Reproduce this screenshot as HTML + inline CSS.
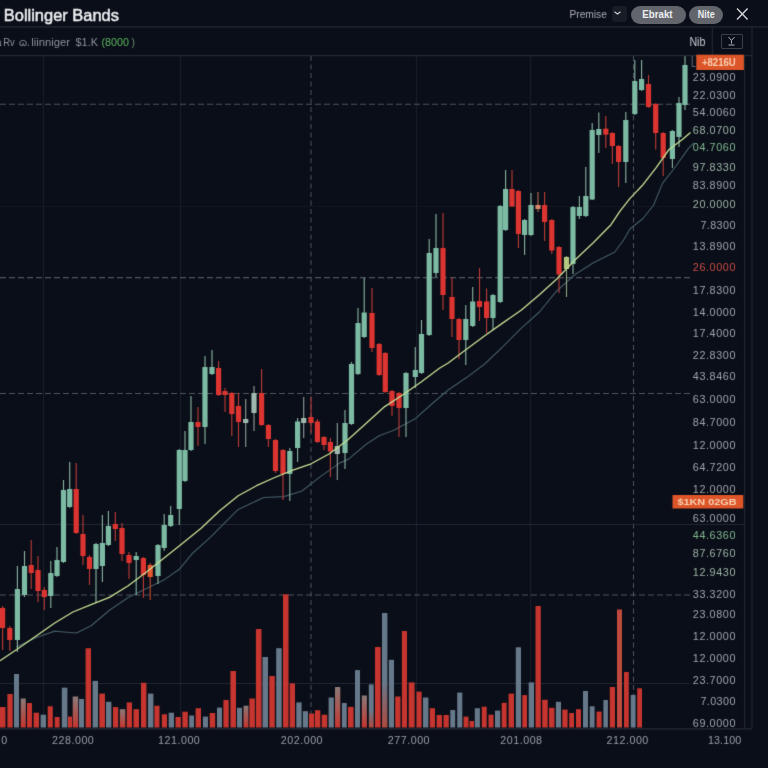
<!DOCTYPE html>
<html><head><meta charset="utf-8"><style>
html,body{margin:0;padding:0;}
body{width:768px;height:768px;overflow:hidden;background:#0a0e18;position:relative;font-family:"Liberation Sans",sans-serif;}
.t{position:absolute;white-space:nowrap;}
svg{position:absolute;left:0;top:0;}
text{font-family:"Liberation Sans",sans-serif;}
</style></head><body>
<svg width="768" height="768" viewBox="0 0 768 768"><defs>
<filter id="bl" x="0" y="0" width="768" height="768" filterUnits="userSpaceOnUse" color-interpolation-filters="sRGB"><feConvolveMatrix order="3" kernelMatrix="0.0115 0.084 0.0115 0.084 0.618 0.084 0.0115 0.084 0.0115" edgeMode="duplicate" preserveAlpha="false"/></filter>
<linearGradient id="gm" x1="0" y1="0" x2="0" y2="1"><stop offset="0" stop-color="#8a7a78"/><stop offset="1" stop-color="#c6352f"/></linearGradient>
<linearGradient id="gn" x1="0" y1="0" x2="0" y2="1"><stop offset="0" stop-color="#66798a"/><stop offset="0.6" stop-color="#66798a"/><stop offset="1" stop-color="#b04a40"/></linearGradient>
</defs><g filter="url(#bl)"><line x1="43.5" y1="56" x2="43.5" y2="728" stroke="#181e29" stroke-width="1.3"/><line x1="180.5" y1="56" x2="180.5" y2="728" stroke="#181e29" stroke-width="1.3"/><line x1="416.5" y1="56" x2="416.5" y2="728" stroke="#181e29" stroke-width="1.3"/><line x1="530.5" y1="56" x2="530.5" y2="728" stroke="#181e29" stroke-width="1.3"/><line x1="311" y1="56" x2="311" y2="728" stroke="#4f5560" stroke-width="1" stroke-dasharray="5 3.5"/><line x1="633.5" y1="56" x2="633.5" y2="728" stroke="#4f5560" stroke-width="1" stroke-dasharray="5 3.5"/><line x1="0" y1="206.5" x2="690" y2="206.5" stroke="#121722" stroke-width="1"/><line x1="0" y1="524.5" x2="744" y2="524.5" stroke="#212833" stroke-width="1"/><line x1="0" y1="683.5" x2="690" y2="683.5" stroke="#212833" stroke-width="1"/><line x1="0" y1="104.3" x2="690" y2="104.3" stroke="#4f5560" stroke-width="1.1" stroke-dasharray="6 3"/><line x1="0" y1="277.6" x2="690" y2="277.6" stroke="#4f5560" stroke-width="1.1" stroke-dasharray="6 3"/><line x1="0" y1="393.5" x2="690" y2="393.5" stroke="#4f5560" stroke-width="1.1" stroke-dasharray="6 3"/><line x1="0" y1="595" x2="690" y2="595" stroke="#4f5560" stroke-width="1.1" stroke-dasharray="6 3"/><rect x="0" y="707" width="5.5" height="20.5" fill="#c6352f"/><rect x="7.4" y="694" width="5.3" height="33.5" fill="#c6352f"/><rect x="14" y="674" width="5" height="53.5" fill="#66798a"/><rect x="20.7" y="698.5" width="5.1" height="29" fill="url(#gm)"/><rect x="27" y="703" width="5" height="24.5" fill="#c6352f"/><rect x="33.6" y="712.7" width="5.4" height="14.8" fill="#c6352f"/><rect x="40.6" y="714.7" width="5.4" height="12.8" fill="#66798a"/><rect x="47.7" y="706.3" width="5.1" height="21.2" fill="#c6352f"/><rect x="54.7" y="717" width="4.9" height="10.5" fill="#c6352f"/><rect x="61.8" y="687.7" width="5.6" height="39.8" fill="#66798a"/><rect x="68" y="716.6" width="4" height="10.9" fill="#c6352f"/><rect x="72.7" y="696.5" width="5.5" height="31" fill="url(#gm)"/><rect x="79" y="699" width="5" height="28.5" fill="#66798a"/><rect x="85.6" y="648.2" width="5.4" height="79.3" fill="#c6352f"/><rect x="92.6" y="680.9" width="5.4" height="46.6" fill="#66798a"/><rect x="99.3" y="693.6" width="5.7" height="33.9" fill="#c6352f"/><rect x="106" y="701.8" width="5.4" height="25.7" fill="#66798a"/><rect x="113" y="707" width="5.2" height="20.5" fill="#c6352f"/><rect x="119.8" y="709.2" width="5.5" height="18.3" fill="url(#gm)"/><rect x="126.7" y="702.4" width="5.3" height="25.1" fill="#c6352f"/><rect x="133.5" y="709.2" width="5.5" height="18.3" fill="#c6352f"/><rect x="141" y="682.8" width="5.4" height="44.7" fill="#c6352f"/><rect x="148" y="693.6" width="5.4" height="33.9" fill="#66798a"/><rect x="154.4" y="705.7" width="5.1" height="21.8" fill="#c6352f"/><rect x="161.8" y="714.3" width="5.2" height="13.2" fill="#c6352f"/><rect x="168.7" y="712.7" width="5.3" height="14.8" fill="#66798a"/><rect x="175.5" y="717" width="5.3" height="10.5" fill="#c6352f"/><rect x="182.4" y="711.7" width="5.4" height="15.8" fill="#c6352f"/><rect x="189.2" y="715.5" width="4.8" height="12" fill="#66798a"/><rect x="195.6" y="708.2" width="5.4" height="19.3" fill="#c6352f"/><rect x="202.9" y="716.6" width="5.1" height="10.9" fill="#66798a"/><rect x="209.7" y="713" width="5.5" height="14.5" fill="#c6352f"/><rect x="217" y="707.6" width="5" height="19.9" fill="#66798a"/><rect x="223.4" y="700" width="5.3" height="27.5" fill="#c6352f"/><rect x="230.4" y="671" width="5.6" height="56.5" fill="#c6352f"/><rect x="237" y="707.8" width="5" height="19.7" fill="#66798a"/><rect x="243.5" y="705.7" width="4.9" height="21.8" fill="url(#gm)"/><rect x="249.4" y="698.5" width="5.5" height="29" fill="#c6352f"/><rect x="255.9" y="629" width="5.6" height="98.5" fill="#c6352f"/><rect x="262.5" y="657" width="5.5" height="70.5" fill="#66798a"/><rect x="269.3" y="676" width="5.5" height="51.5" fill="#c6352f"/><rect x="276.2" y="648.2" width="5.5" height="79.3" fill="#66798a"/><rect x="283" y="594.3" width="5.5" height="133.2" fill="#c6352f"/><rect x="289.7" y="683.4" width="5.3" height="44.1" fill="#c6352f"/><rect x="296.3" y="702.4" width="5.3" height="25.1" fill="#66798a"/><rect x="302.8" y="711.2" width="5.2" height="16.3" fill="#66798a"/><rect x="309" y="713.5" width="5.3" height="14" fill="#c6352f"/><rect x="315" y="710.2" width="5.3" height="17.3" fill="#c6352f"/><rect x="321.7" y="714.7" width="5.5" height="12.8" fill="#c6352f"/><rect x="328.6" y="697.5" width="5.2" height="30" fill="#66798a"/><rect x="335" y="687" width="5.3" height="40.5" fill="url(#gm)"/><rect x="341.9" y="703" width="4.8" height="24.5" fill="#66798a"/><rect x="348" y="706.9" width="5.6" height="20.6" fill="#c6352f"/><rect x="355" y="670.1" width="5" height="57.4" fill="#66798a"/><rect x="361.8" y="695.5" width="5.1" height="32" fill="url(#gm)"/><rect x="368.8" y="684.4" width="4.9" height="43.1" fill="url(#gn)"/><rect x="375" y="647" width="5.6" height="80.5" fill="#c6352f"/><rect x="382" y="613" width="5.4" height="114.5" fill="url(#gn)"/><rect x="388.8" y="659.8" width="5.2" height="67.7" fill="#66798a"/><rect x="395.2" y="696.5" width="5.3" height="31" fill="#c6352f"/><rect x="401.9" y="631" width="5.1" height="96.5" fill="#c6352f"/><rect x="408.7" y="682.4" width="5.9" height="45.1" fill="#c6352f"/><rect x="416.5" y="691.6" width="5.1" height="35.9" fill="#c6352f"/><rect x="423" y="697.5" width="5.4" height="30" fill="#66798a"/><rect x="429.8" y="708.2" width="5.2" height="19.3" fill="#c6352f"/><rect x="436.6" y="715" width="5.4" height="12.5" fill="#c6352f"/><rect x="443.5" y="715" width="5.3" height="12.5" fill="#c6352f"/><rect x="450.3" y="710" width="4.9" height="17.5" fill="#66798a"/><rect x="457.2" y="692.6" width="5.1" height="34.9" fill="#66798a"/><rect x="463.6" y="716.6" width="4.9" height="10.9" fill="#c6352f"/><rect x="469.5" y="721" width="4.5" height="6.5" fill="#c6352f"/><rect x="474.8" y="708.2" width="5.1" height="19.3" fill="#66798a"/><rect x="481.8" y="706.7" width="4.9" height="20.8" fill="#c6352f"/><rect x="488.5" y="714.7" width="5" height="12.8" fill="#c6352f"/><rect x="495" y="710.6" width="5.2" height="16.9" fill="#66798a"/><rect x="501.7" y="702.8" width="4.9" height="24.7" fill="#c6352f"/><rect x="508.6" y="693.6" width="5.4" height="33.9" fill="#c6352f"/><rect x="515.8" y="647.3" width="5.2" height="80.2" fill="#66798a"/><rect x="522.3" y="695.1" width="4.7" height="32.4" fill="#c6352f"/><rect x="528.7" y="682.4" width="5.3" height="45.1" fill="#66798a"/><rect x="535.5" y="606" width="5.3" height="121.5" fill="#c6352f"/><rect x="542.2" y="699.8" width="5.5" height="27.7" fill="#c6352f"/><rect x="549" y="707.8" width="5.5" height="19.7" fill="#c6352f"/><rect x="555.9" y="701.8" width="5.1" height="25.7" fill="#66798a"/><rect x="562.3" y="709.6" width="5.3" height="17.9" fill="#c6352f"/><rect x="569.2" y="713" width="4.8" height="14.5" fill="#c6352f"/><rect x="576" y="709.2" width="5" height="18.3" fill="#c6352f"/><rect x="583" y="691" width="5" height="36.5" fill="#66798a"/><rect x="589.7" y="706.3" width="4.9" height="21.2" fill="#66798a"/><rect x="596.5" y="711.6" width="5.1" height="15.9" fill="#c6352f"/><rect x="603.4" y="700" width="4.5" height="27.5" fill="#66798a"/><rect x="609.8" y="687" width="5.2" height="40.5" fill="#c6352f"/><rect x="617" y="609.5" width="5" height="118" fill="#c04a3e"/><rect x="624" y="672" width="4.8" height="55.5" fill="#c6352f"/><rect x="630.7" y="695" width="4.9" height="32.5" fill="#66798a"/><rect x="637.2" y="688.3" width="4.8" height="39.2" fill="#c6352f"/><polyline points="16,647 36.5,637.5 54.7,631.1 63.8,632 76.6,633 91.1,625.7 109.4,610.2 128.2,597.6 146.5,588.5 164.7,579.4 179.3,569.3 192,553.8 210.3,537.4 220,527.6 238.2,509.4 263.7,497.5 283.8,496.6 302,491 320.3,476.6 340,462.9 348.2,459.4 366.5,444 379.2,435.7 393.8,430.3 415.7,418.4 432,403.8 448.2,390 466.5,377.6 484.7,364 502.9,346.6 521.1,328.4 539.4,312 556.5,291.2 574.7,274.8 593,263 614.8,252 623.6,240 630,229 643,218.5 653.4,205.5 662.5,183.4 675.6,166.5 688.6,148.2 694,142.8" fill="none" stroke="#435a66" stroke-width="1.15" stroke-linejoin="round"/><line x1="2.6" y1="606" x2="2.6" y2="650" stroke="#b63a36" stroke-width="1.15"/><rect x="0" y="608" width="5.2" height="20" fill="#dc3430"/><line x1="9.8" y1="626" x2="9.8" y2="651" stroke="#b63a36" stroke-width="1.15"/><rect x="7.2" y="628" width="5.2" height="12" fill="#dc3430"/><line x1="17.4" y1="566" x2="17.4" y2="652" stroke="#86ad9c" stroke-width="1.15"/><rect x="14.8" y="589" width="5.2" height="51" fill="#7cbaa3"/><line x1="24.5" y1="551" x2="24.5" y2="597" stroke="#86ad9c" stroke-width="1.15"/><rect x="21.9" y="566" width="5.2" height="29" fill="#7cbaa3"/><line x1="31.2" y1="540" x2="31.2" y2="589" stroke="#b63a36" stroke-width="1.15"/><rect x="28.6" y="565" width="5.2" height="8" fill="#dc3430"/><line x1="38" y1="556" x2="38" y2="602" stroke="#b63a36" stroke-width="1.15"/><rect x="35.4" y="570" width="5.2" height="21" fill="#dc3430"/><line x1="44.3" y1="587" x2="44.3" y2="610" stroke="#b63a36" stroke-width="1.15"/><rect x="41.7" y="590" width="5.2" height="7" fill="#dc3430"/><line x1="50.8" y1="561" x2="50.8" y2="608" stroke="#86ad9c" stroke-width="1.15"/><rect x="48.2" y="573" width="5.2" height="23" fill="#7cbaa3"/><line x1="57" y1="547" x2="57" y2="577" stroke="#86ad9c" stroke-width="1.15"/><rect x="54.4" y="560" width="5.2" height="16" fill="#7cbaa3"/><line x1="63.5" y1="480" x2="63.5" y2="563" stroke="#86ad9c" stroke-width="1.15"/><rect x="60.9" y="490" width="5.2" height="72" fill="#7cbaa3"/><line x1="69.7" y1="462" x2="69.7" y2="508" stroke="#86ad9c" stroke-width="1.15"/><rect x="67.1" y="489" width="5.2" height="18" fill="#7cbaa3"/><line x1="76.2" y1="463" x2="76.2" y2="534" stroke="#b63a36" stroke-width="1.15"/><rect x="73.6" y="489" width="5.2" height="44" fill="#dc3430"/><line x1="83" y1="515" x2="83" y2="565" stroke="#b63a36" stroke-width="1.15"/><rect x="80.4" y="534" width="5.2" height="22" fill="#dc3430"/><line x1="89.5" y1="555" x2="89.5" y2="585" stroke="#b63a36" stroke-width="1.15"/><rect x="86.9" y="557" width="5.2" height="12" fill="#dc3430"/><line x1="96" y1="543" x2="96" y2="603" stroke="#86ad9c" stroke-width="1.15"/><rect x="93.4" y="544" width="5.2" height="25" fill="#7cbaa3"/><line x1="102.4" y1="515" x2="102.4" y2="582" stroke="#86ad9c" stroke-width="1.15"/><rect x="99.8" y="543" width="5.2" height="23" fill="#7cbaa3"/><line x1="108.4" y1="511" x2="108.4" y2="546" stroke="#86ad9c" stroke-width="1.15"/><rect x="105.8" y="526" width="5.2" height="19" fill="#7cbaa3"/><line x1="115.3" y1="512" x2="115.3" y2="541" stroke="#b63a36" stroke-width="1.15"/><rect x="112.7" y="524" width="5.2" height="5" fill="#dc3430"/><line x1="122" y1="523" x2="122" y2="561" stroke="#b63a36" stroke-width="1.15"/><rect x="119.4" y="528" width="5.2" height="26" fill="#dc3430"/><line x1="129" y1="552" x2="129" y2="579" stroke="#b63a36" stroke-width="1.15"/><rect x="126.4" y="555" width="5.2" height="8" fill="#dc3430"/><line x1="136.2" y1="552" x2="136.2" y2="595" stroke="#86ad9c" stroke-width="1.15"/><rect x="133.6" y="556" width="5.2" height="4" fill="#7cbaa3"/><line x1="143.4" y1="557" x2="143.4" y2="598" stroke="#b63a36" stroke-width="1.15"/><rect x="140.8" y="558" width="5.2" height="17" fill="#dc3430"/><line x1="150.2" y1="563" x2="150.2" y2="600" stroke="#c04a30" stroke-width="1.15"/><rect x="147.6" y="565" width="5.2" height="12" fill="#e4582f"/><line x1="158" y1="544" x2="158" y2="584" stroke="#86ad9c" stroke-width="1.15"/><rect x="155.4" y="545" width="5.2" height="31" fill="#7cbaa3"/><line x1="164.2" y1="514" x2="164.2" y2="551" stroke="#86ad9c" stroke-width="1.15"/><rect x="161.6" y="525" width="5.2" height="23" fill="#7cbaa3"/><line x1="170.7" y1="506" x2="170.7" y2="527" stroke="#86ad9c" stroke-width="1.15"/><rect x="168.1" y="515" width="5.2" height="11" fill="#7cbaa3"/><line x1="179.3" y1="449" x2="179.3" y2="525" stroke="#86ad9c" stroke-width="1.15"/><rect x="176.7" y="450" width="5.2" height="59" fill="#7cbaa3"/><line x1="185" y1="431" x2="185" y2="482" stroke="#86ad9c" stroke-width="1.15"/><rect x="182.4" y="450" width="5.2" height="31" fill="#7cbaa3"/><line x1="191" y1="396" x2="191" y2="451" stroke="#86ad9c" stroke-width="1.15"/><rect x="188.4" y="422" width="5.2" height="28" fill="#7cbaa3"/><line x1="198" y1="407" x2="198" y2="446" stroke="#b63a36" stroke-width="1.15"/><rect x="195.4" y="422" width="5.2" height="5" fill="#dc3430"/><line x1="205" y1="356" x2="205" y2="444" stroke="#86ad9c" stroke-width="1.15"/><rect x="202.4" y="367" width="5.2" height="60" fill="#7cbaa3"/><line x1="212" y1="350" x2="212" y2="375" stroke="#86ad9c" stroke-width="1.15"/><rect x="209.4" y="367" width="5.2" height="7" fill="#7cbaa3"/><line x1="218.6" y1="361" x2="218.6" y2="396" stroke="#b63a36" stroke-width="1.15"/><rect x="216" y="368" width="5.2" height="27" fill="#dc3430"/><line x1="225" y1="388" x2="225" y2="412" stroke="#b63a36" stroke-width="1.15"/><rect x="222.4" y="391" width="5.2" height="4" fill="#dc3430"/><line x1="231.8" y1="392" x2="231.8" y2="436" stroke="#b63a36" stroke-width="1.15"/><rect x="229.2" y="393" width="5.2" height="21" fill="#dc3430"/><line x1="238.5" y1="393" x2="238.5" y2="447" stroke="#b63a36" stroke-width="1.15"/><rect x="235.9" y="406" width="5.2" height="16" fill="#dc3430"/><line x1="245.7" y1="399" x2="245.7" y2="447" stroke="#8a9a95" stroke-width="1.15"/><rect x="243.1" y="419" width="5.2" height="4" fill="#9fb8ad"/><line x1="254" y1="386" x2="254" y2="431" stroke="#8a9a95" stroke-width="1.15"/><rect x="251.4" y="393" width="5.2" height="20" fill="#9fb8ad"/><line x1="261.6" y1="369" x2="261.6" y2="426" stroke="#b63a36" stroke-width="1.15"/><rect x="259" y="393" width="5.2" height="32" fill="#dc3430"/><line x1="268.4" y1="424" x2="268.4" y2="447" stroke="#b63a36" stroke-width="1.15"/><rect x="265.8" y="425" width="5.2" height="14" fill="#dc3430"/><line x1="275.5" y1="439" x2="275.5" y2="473" stroke="#b63a36" stroke-width="1.15"/><rect x="272.9" y="440" width="5.2" height="31" fill="#dc3430"/><line x1="283" y1="449" x2="283" y2="500" stroke="#b63a36" stroke-width="1.15"/><rect x="280.4" y="450" width="5.2" height="24" fill="#dc3430"/><line x1="289.8" y1="448" x2="289.8" y2="501" stroke="#86ad9c" stroke-width="1.15"/><rect x="287.2" y="451" width="5.2" height="23" fill="#7cbaa3"/><line x1="297.6" y1="418" x2="297.6" y2="462" stroke="#86ad9c" stroke-width="1.15"/><rect x="295" y="421.5" width="5.2" height="26.5" fill="#7cbaa3"/><line x1="303.7" y1="397" x2="303.7" y2="438" stroke="#8a9a95" stroke-width="1.15"/><rect x="301.1" y="418" width="5.2" height="5" fill="#9fb8ad"/><line x1="311" y1="397" x2="311" y2="433" stroke="#b63a36" stroke-width="1.15"/><rect x="308.4" y="417" width="5.2" height="6" fill="#dc3430"/><line x1="317.4" y1="419" x2="317.4" y2="443" stroke="#b63a36" stroke-width="1.15"/><rect x="314.8" y="421.5" width="5.2" height="20.5" fill="#dc3430"/><line x1="324" y1="436" x2="324" y2="450" stroke="#b63a36" stroke-width="1.15"/><rect x="321.4" y="437" width="5.2" height="8" fill="#dc3430"/><line x1="330.4" y1="438" x2="330.4" y2="477" stroke="#b63a36" stroke-width="1.15"/><rect x="327.8" y="442" width="5.2" height="9.5" fill="#dc3430"/><line x1="337.3" y1="423" x2="337.3" y2="480" stroke="#8a9a95" stroke-width="1.15"/><rect x="334.7" y="446" width="5.2" height="8" fill="#9fb8ad"/><line x1="345" y1="410" x2="345" y2="469" stroke="#86ad9c" stroke-width="1.15"/><rect x="342.4" y="423" width="5.2" height="30" fill="#7cbaa3"/><line x1="351.5" y1="362" x2="351.5" y2="425" stroke="#86ad9c" stroke-width="1.15"/><rect x="348.9" y="364" width="5.2" height="60" fill="#7cbaa3"/><line x1="358" y1="308" x2="358" y2="375" stroke="#86ad9c" stroke-width="1.15"/><rect x="355.4" y="323" width="5.2" height="51" fill="#7cbaa3"/><line x1="364.2" y1="278" x2="364.2" y2="338" stroke="#86ad9c" stroke-width="1.15"/><rect x="361.6" y="312.5" width="5.2" height="24.5" fill="#7cbaa3"/><line x1="372" y1="288" x2="372" y2="352" stroke="#b63a36" stroke-width="1.15"/><rect x="369.4" y="313" width="5.2" height="35" fill="#dc3430"/><line x1="379.2" y1="343" x2="379.2" y2="376" stroke="#b63a36" stroke-width="1.15"/><rect x="376.6" y="344" width="5.2" height="31" fill="#dc3430"/><line x1="385.3" y1="352" x2="385.3" y2="393" stroke="#b63a36" stroke-width="1.15"/><rect x="382.7" y="353" width="5.2" height="39" fill="#dc3430"/><line x1="392" y1="390" x2="392" y2="416" stroke="#b63a36" stroke-width="1.15"/><rect x="389.4" y="391" width="5.2" height="15" fill="#dc3430"/><line x1="399" y1="392" x2="399" y2="437" stroke="#b63a36" stroke-width="1.15"/><rect x="396.4" y="393" width="5.2" height="15" fill="#dc3430"/><line x1="406" y1="372" x2="406" y2="437" stroke="#86ad9c" stroke-width="1.15"/><rect x="403.4" y="373" width="5.2" height="35" fill="#7cbaa3"/><line x1="415.3" y1="347" x2="415.3" y2="388" stroke="#86ad9c" stroke-width="1.15"/><rect x="412.7" y="370" width="5.2" height="7" fill="#7cbaa3"/><line x1="421.5" y1="320" x2="421.5" y2="374" stroke="#86ad9c" stroke-width="1.15"/><rect x="418.9" y="334" width="5.2" height="39" fill="#7cbaa3"/><line x1="429.2" y1="239" x2="429.2" y2="336" stroke="#86ad9c" stroke-width="1.15"/><rect x="426.6" y="253" width="5.2" height="82" fill="#7cbaa3"/><line x1="436" y1="214" x2="436" y2="277" stroke="#86ad9c" stroke-width="1.15"/><rect x="433.4" y="248" width="5.2" height="25" fill="#7cbaa3"/><line x1="443" y1="213" x2="443" y2="310" stroke="#b63a36" stroke-width="1.15"/><rect x="440.4" y="248" width="5.2" height="47" fill="#dc3430"/><line x1="452" y1="277" x2="452" y2="337" stroke="#b63a36" stroke-width="1.15"/><rect x="449.4" y="297" width="5.2" height="22" fill="#dc3430"/><line x1="459" y1="318" x2="459" y2="359" stroke="#b63a36" stroke-width="1.15"/><rect x="456.4" y="319" width="5.2" height="21" fill="#dc3430"/><line x1="465.8" y1="305" x2="465.8" y2="365" stroke="#86ad9c" stroke-width="1.15"/><rect x="463.2" y="319" width="5.2" height="21" fill="#7cbaa3"/><line x1="472.7" y1="287" x2="472.7" y2="327" stroke="#86ad9c" stroke-width="1.15"/><rect x="470.1" y="301.5" width="5.2" height="24.5" fill="#7cbaa3"/><line x1="479.5" y1="268" x2="479.5" y2="321" stroke="#b63a36" stroke-width="1.15"/><rect x="476.9" y="301" width="5.2" height="6" fill="#dc3430"/><line x1="486.6" y1="288.5" x2="486.6" y2="333" stroke="#b63a36" stroke-width="1.15"/><rect x="484" y="301.5" width="5.2" height="16.5" fill="#dc3430"/><line x1="493" y1="294" x2="493" y2="330" stroke="#86ad9c" stroke-width="1.15"/><rect x="490.4" y="295" width="5.2" height="23" fill="#7cbaa3"/><line x1="500.2" y1="205" x2="500.2" y2="303" stroke="#86ad9c" stroke-width="1.15"/><rect x="497.6" y="206" width="5.2" height="96" fill="#7cbaa3"/><line x1="505.6" y1="170" x2="505.6" y2="231" stroke="#86ad9c" stroke-width="1.15"/><rect x="503" y="189" width="5.2" height="41" fill="#7cbaa3"/><line x1="512" y1="170" x2="512" y2="207" stroke="#b63a36" stroke-width="1.15"/><rect x="509.4" y="189" width="5.2" height="17.5" fill="#dc3430"/><line x1="518.4" y1="190" x2="518.4" y2="248" stroke="#b63a36" stroke-width="1.15"/><rect x="515.8" y="191" width="5.2" height="43" fill="#dc3430"/><line x1="524.6" y1="219" x2="524.6" y2="255" stroke="#86ad9c" stroke-width="1.15"/><rect x="522" y="220" width="5.2" height="15" fill="#7cbaa3"/><line x1="531" y1="193" x2="531" y2="236" stroke="#86ad9c" stroke-width="1.15"/><rect x="528.4" y="205" width="5.2" height="30" fill="#7cbaa3"/><line x1="538" y1="192" x2="538" y2="212" stroke="#b06a50" stroke-width="1.15"/><rect x="535.4" y="205" width="5.2" height="4" fill="#d98a6a"/><line x1="544.6" y1="192" x2="544.6" y2="241" stroke="#b63a36" stroke-width="1.15"/><rect x="542" y="205" width="5.2" height="17" fill="#dc3430"/><line x1="551.8" y1="219" x2="551.8" y2="254" stroke="#b63a36" stroke-width="1.15"/><rect x="549.2" y="220" width="5.2" height="30.5" fill="#dc3430"/><line x1="559" y1="246" x2="559" y2="293" stroke="#b63a36" stroke-width="1.15"/><rect x="556.4" y="247" width="5.2" height="27.5" fill="#dc3430"/><line x1="566.5" y1="256" x2="566.5" y2="297" stroke="#8aa07a" stroke-width="1.15"/><rect x="563.9" y="257" width="5.2" height="12" fill="#b4c77e"/><line x1="573" y1="206" x2="573" y2="274" stroke="#86ad9c" stroke-width="1.15"/><rect x="570.4" y="207" width="5.2" height="57" fill="#7cbaa3"/><line x1="579.4" y1="196" x2="579.4" y2="219" stroke="#86ad9c" stroke-width="1.15"/><rect x="576.8" y="207" width="5.2" height="9" fill="#7cbaa3"/><line x1="585.8" y1="167" x2="585.8" y2="217" stroke="#86ad9c" stroke-width="1.15"/><rect x="583.2" y="196" width="5.2" height="20" fill="#7cbaa3"/><line x1="592.2" y1="123" x2="592.2" y2="200" stroke="#86ad9c" stroke-width="1.15"/><rect x="589.6" y="130" width="5.2" height="69.5" fill="#7cbaa3"/><line x1="598.8" y1="112.5" x2="598.8" y2="153" stroke="#86ad9c" stroke-width="1.15"/><rect x="596.2" y="129" width="5.2" height="6" fill="#7cbaa3"/><line x1="605.8" y1="116" x2="605.8" y2="148" stroke="#b63a36" stroke-width="1.15"/><rect x="603.2" y="128.6" width="5.2" height="6" fill="#dc3430"/><line x1="612.4" y1="132" x2="612.4" y2="164" stroke="#b63a36" stroke-width="1.15"/><rect x="609.8" y="133" width="5.2" height="13" fill="#dc3430"/><line x1="618.6" y1="145" x2="618.6" y2="187" stroke="#b63a36" stroke-width="1.15"/><rect x="616" y="146" width="5.2" height="16" fill="#dc3430"/><line x1="625.8" y1="112" x2="625.8" y2="183" stroke="#86ad9c" stroke-width="1.15"/><rect x="623.2" y="120" width="5.2" height="42" fill="#7cbaa3"/><line x1="634.8" y1="60" x2="634.8" y2="115" stroke="#86ad9c" stroke-width="1.15"/><rect x="632.2" y="81" width="5.2" height="33" fill="#7cbaa3"/><line x1="641.6" y1="60" x2="641.6" y2="91" stroke="#86ad9c" stroke-width="1.15"/><rect x="639" y="79" width="5.2" height="11" fill="#7cbaa3"/><line x1="648.5" y1="75" x2="648.5" y2="108" stroke="#b63a36" stroke-width="1.15"/><rect x="645.9" y="84" width="5.2" height="23" fill="#dc3430"/><line x1="655.7" y1="103" x2="655.7" y2="149.5" stroke="#b63a36" stroke-width="1.15"/><rect x="653.1" y="104" width="5.2" height="29" fill="#dc3430"/><line x1="663.2" y1="132" x2="663.2" y2="176" stroke="#b63a36" stroke-width="1.15"/><rect x="660.6" y="133" width="5.2" height="25" fill="#dc3430"/><line x1="672.4" y1="130" x2="672.4" y2="168" stroke="#86ad9c" stroke-width="1.15"/><rect x="669.8" y="131" width="5.2" height="28" fill="#7cbaa3"/><line x1="679" y1="97" x2="679" y2="147" stroke="#86ad9c" stroke-width="1.15"/><rect x="676.4" y="103" width="5.2" height="34" fill="#7cbaa3"/><line x1="685" y1="56" x2="685" y2="110" stroke="#86ad9c" stroke-width="1.15"/><rect x="682.4" y="65" width="5.2" height="40" fill="#7cbaa3"/><polyline points="0,660.7 18.2,648.5 36.5,635.7 54.7,623 72.9,612 91.1,604.7 109.4,597.4 128.2,585.7 146.5,572 164.7,557.5 182.9,543 201.1,528.3 219.4,511 238.2,495.7 256.5,485.7 274.7,477.5 292.9,470.2 311.1,463.8 329.4,453.8 348.2,439.4 366.5,423 384.7,406.6 402.9,394.7 421.1,382 439.4,368.3 448.2,363 466.5,349.3 484.7,335.7 502.9,322.9 521.1,310.2 539.4,294.7 556.5,279.3 574.7,260.2 593,243 611,224.7 620,211.2 630,198.4 643,184.7 656,167.8 669,149.5 682,139.8 690.5,132.4" fill="none" stroke="#c4de94" stroke-width="1.3" stroke-linejoin="round"/><line x1="0" y1="26.8" x2="768" y2="26.8" stroke="#252b36" stroke-width="1.2"/><line x1="0" y1="55.6" x2="752" y2="55.6" stroke="#252b36" stroke-width="1.2"/><line x1="712.3" y1="27" x2="712.3" y2="55" stroke="#252b36" stroke-width="1"/><line x1="744.6" y1="55" x2="744.6" y2="729" stroke="#252b36" stroke-width="1"/><line x1="752" y1="27" x2="752" y2="729" stroke="#252b36" stroke-width="1"/><line x1="0" y1="728.8" x2="752" y2="728.8" stroke="#252b36" stroke-width="1.2"/><text x="735.4" y="80.9" font-size="10.8" fill="#9ea4aa" text-anchor="end" textLength="42.6" lengthAdjust="spacing">23.0900</text><text x="735.4" y="99.1" font-size="10.8" fill="#9ea4aa" text-anchor="end" textLength="42.6" lengthAdjust="spacing">22.0300</text><text x="735.4" y="116" font-size="10.8" fill="#9ea4aa" text-anchor="end" textLength="42.6" lengthAdjust="spacing">54.0060</text><text x="735.4" y="134.2" font-size="10.8" fill="#9cb3a6" text-anchor="end" textLength="42.6" lengthAdjust="spacing">68.0700</text><text x="735.4" y="151.2" font-size="10.8" fill="#80b690" text-anchor="end" textLength="42.6" lengthAdjust="spacing">04.7060</text><text x="735.4" y="170.7" font-size="10.8" fill="#9cb3a6" text-anchor="end" textLength="42.6" lengthAdjust="spacing">97.8330</text><text x="735.4" y="188.9" font-size="10.8" fill="#9ea4aa" text-anchor="end" textLength="42.6" lengthAdjust="spacing">83.8900</text><text x="735.4" y="207.9" font-size="10.8" fill="#9cb3a6" text-anchor="end" textLength="42.6" lengthAdjust="spacing">20.0000</text><text x="735.4" y="228.8" font-size="10.8" fill="#9ea4aa" text-anchor="end" textLength="35" lengthAdjust="spacing">7.8300</text><text x="735.4" y="250.4" font-size="10.8" fill="#9ea4aa" text-anchor="end" textLength="42.6" lengthAdjust="spacing">13.8900</text><text x="735.4" y="270.9" font-size="10.8" fill="#c84c44" text-anchor="end" textLength="42.6" lengthAdjust="spacing">26.0000</text><text x="735.4" y="293.8" font-size="10.8" fill="#9ea4aa" text-anchor="end" textLength="42.6" lengthAdjust="spacing">17.8300</text><text x="735.4" y="315.65" font-size="10.8" fill="#9ea4aa" text-anchor="end" textLength="42.6" lengthAdjust="spacing">14.0000</text><text x="735.4" y="337.3" font-size="10.8" fill="#9ea4aa" text-anchor="end" textLength="42.6" lengthAdjust="spacing">17.4000</text><text x="735.4" y="358.9" font-size="10.8" fill="#9ea4aa" text-anchor="end" textLength="42.6" lengthAdjust="spacing">22.8300</text><text x="735.4" y="380.2" font-size="10.8" fill="#9ea4aa" text-anchor="end" textLength="42.6" lengthAdjust="spacing">43.8460</text><text x="735.4" y="403.15" font-size="10.8" fill="#9ea4aa" text-anchor="end" textLength="42.6" lengthAdjust="spacing">63.0000</text><text x="735.4" y="426.4" font-size="10.8" fill="#9ea4aa" text-anchor="end" textLength="42.6" lengthAdjust="spacing">84.7000</text><text x="735.4" y="449.1" font-size="10.8" fill="#9ea4aa" text-anchor="end" textLength="42.6" lengthAdjust="spacing">12.0000</text><text x="735.4" y="471.3" font-size="10.8" fill="#9ea4aa" text-anchor="end" textLength="42.6" lengthAdjust="spacing">64.7200</text><text x="735.4" y="492.6" font-size="10.8" fill="#9ea4aa" text-anchor="end" textLength="42.6" lengthAdjust="spacing">12.0000</text><text x="735.4" y="522.1" font-size="10.8" fill="#9ea4aa" text-anchor="end" textLength="42.6" lengthAdjust="spacing">63.0000</text><text x="735.4" y="539" font-size="10.8" fill="#80b690" text-anchor="end" textLength="42.6" lengthAdjust="spacing">44.6360</text><text x="735.4" y="557.2" font-size="10.8" fill="#9cb3a6" text-anchor="end" textLength="42.6" lengthAdjust="spacing">87.6760</text><text x="735.4" y="576" font-size="10.8" fill="#9cb3a6" text-anchor="end" textLength="42.6" lengthAdjust="spacing">12.9430</text><text x="735.4" y="598.4" font-size="10.8" fill="#9ea4aa" text-anchor="end" textLength="42.6" lengthAdjust="spacing">33.3200</text><text x="735.4" y="618.4" font-size="10.8" fill="#9ea4aa" text-anchor="end" textLength="42.6" lengthAdjust="spacing">23.0800</text><text x="735.4" y="639.8" font-size="10.8" fill="#9ea4aa" text-anchor="end" textLength="42.6" lengthAdjust="spacing">12.0000</text><text x="735.4" y="661.7" font-size="10.8" fill="#9ea4aa" text-anchor="end" textLength="42.6" lengthAdjust="spacing">12.0000</text><text x="735.4" y="683.6" font-size="10.8" fill="#9ea4aa" text-anchor="end" textLength="42.6" lengthAdjust="spacing">23.7000</text><text x="735.4" y="705.4" font-size="10.8" fill="#9ea4aa" text-anchor="end" textLength="35" lengthAdjust="spacing">7.0300</text><text x="735.4" y="727.4" font-size="10.8" fill="#9ea4aa" text-anchor="end" textLength="42.6" lengthAdjust="spacing">69.0000</text><rect x="696.3" y="54.7" width="47.6" height="15.3" fill="#dd5528"/><text x="701.9" y="65.8" font-size="10" fill="#f6cfb2" textLength="33.8" lengthAdjust="spacingAndGlyphs" font-weight="bold">+8216U</text><polyline points="692.2,56 692.2,66.5 695.5,66.5" fill="none" stroke="#6a7480" stroke-width="0.9"/><rect x="672.5" y="495" width="70.8" height="13.5" fill="#dd5528"/><text x="677.4" y="504.9" font-size="9.2" fill="#f6cfb2" textLength="59.3" lengthAdjust="spacingAndGlyphs" font-weight="bold">$1KN 02GB</text><text x="1.25" y="744" font-size="10.7" fill="#989ea5" textLength="5.8" lengthAdjust="spacing">0</text><text x="52" y="744" font-size="10.7" fill="#989ea5" textLength="41.8" lengthAdjust="spacing">228.000</text><text x="158" y="744" font-size="10.7" fill="#989ea5" textLength="41.8" lengthAdjust="spacing">121.000</text><text x="280.75" y="744" font-size="10.7" fill="#989ea5" textLength="41.8" lengthAdjust="spacing">202.000</text><text x="387.75" y="744" font-size="10.7" fill="#989ea5" textLength="41.8" lengthAdjust="spacing">277.000</text><text x="500.25" y="744" font-size="10.7" fill="#989ea5" textLength="41.8" lengthAdjust="spacing">201.008</text><text x="606.5" y="744" font-size="10.7" fill="#989ea5" textLength="41.8" lengthAdjust="spacing">212.000</text><text x="708" y="744" font-size="10.7" fill="#989ea5" textLength="33.2" lengthAdjust="spacing">13.100</text><text x="3.8" y="20.75" font-size="17" fill="#eceef0" textLength="115.2" lengthAdjust="spacingAndGlyphs" stroke="#eceef0" stroke-width="0.5">Bollinger Bands</text><text x="-4.6" y="45.6" font-size="10.9" fill="#8a9098">a</text><text x="3.3" y="45.6" font-size="10.9" fill="#8a9098" textLength="11.5" lengthAdjust="spacingAndGlyphs">Rv</text><text x="19" y="45.6" font-size="10.9" fill="#8a9098" textLength="11" lengthAdjust="spacingAndGlyphs">ɷ.</text><text x="31.3" y="45.6" font-size="10.9" fill="#8a9098" textLength="38.8" lengthAdjust="spacingAndGlyphs">liinniger</text><text x="75.5" y="45.6" font-size="10.9" fill="#8a9098" textLength="22.5" lengthAdjust="spacingAndGlyphs">$1.K</text><text x="101.5" y="45.6" font-size="10.5" fill="#5cb460" textLength="27.5" lengthAdjust="spacingAndGlyphs">(8000</text><text x="131.5" y="45.6" font-size="10.5" fill="#6a8a70">)</text><text x="569.5" y="18.2" font-size="11.6" fill="#a8acb2" textLength="37.4" lengthAdjust="spacingAndGlyphs">Premise</text><text x="689.4" y="46.3" font-size="12.2" fill="#c4c8cc" textLength="16" lengthAdjust="spacingAndGlyphs">Nib</text></g></svg>
<div class="t" style="left:611.5px;top:5.5px;width:15px;height:16px;background:#181c25;border-radius:3px;"></div>
<div class="t" style="left:631.2px;top:5.6px;width:55px;height:18px;border-radius:9px;background:#62666c;"></div>
<div class="t" style="left:689px;top:5.8px;width:34px;height:18px;border-radius:9px;background:#62666c;"></div>
<div class="t" style="left:721.3px;top:33.7px;width:19.5px;height:13.5px;border:1px solid #3a404a;border-radius:1px;"></div>
<svg width="768" height="60" viewBox="0 0 768 60">
<polyline points="614.5,11.8 617.5,14 620.5,11.8" fill="none" stroke="#c8ccd0" stroke-width="1.2"/>
<line x1="737" y1="8.6" x2="747.6" y2="19.6" stroke="#d0d3d7" stroke-width="1.4"/><line x1="747.6" y1="8.6" x2="737" y2="19.6" stroke="#d0d3d7" stroke-width="1.4"/>
<text x="642.3" y="17.7" font-size="10.4" font-weight="bold" fill="#eceef0" textLength="30.3" lengthAdjust="spacingAndGlyphs">Ebrakt</text>
<text x="697.7" y="17.7" font-size="10.4" font-weight="bold" fill="#eceef0" textLength="17" lengthAdjust="spacingAndGlyphs">Nite</text>
<path d="M728.5,37 L731.5,40.5 L734.5,37 M731.5,40.5 L731.5,43.5 M728.5,45 L734.5,45" fill="none" stroke="#b0b4b8" stroke-width="1"/>
</svg>
</body></html>
